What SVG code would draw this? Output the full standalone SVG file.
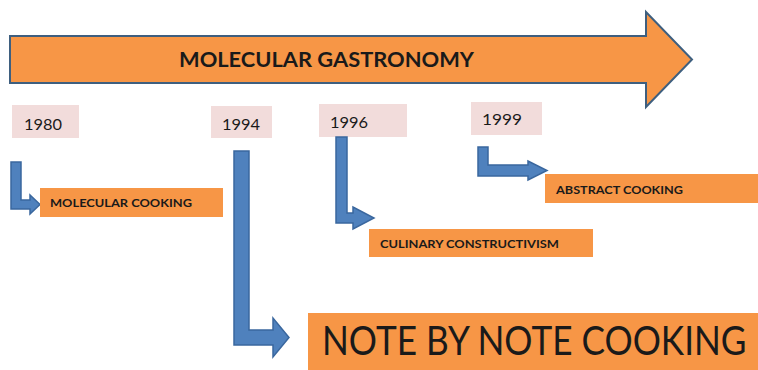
<svg xmlns="http://www.w3.org/2000/svg" width="758" height="370" viewBox="0 0 758 370">
<style>
.bg{fill:#ffffff}
.orange{fill:#F79646}
.year{fill:#F2DCDB}
.bent{fill:#4F81BD;stroke:#3A679E;stroke-width:1.5;stroke-linejoin:miter}
.big{fill:#F79646;stroke:#3E5F7F;stroke-width:2}
.t{font-family:Lato,"Liberation Sans",sans-serif;fill:#1a1a1a}
.b{font-weight:bold}
</style>
<rect class="bg" x="0" y="0" width="758" height="370"/>
<g id="main">
<polygon class="big" points="10,36 646,36 646,12 692,59.5 646,107 646,83 10,83"/>
<text class="t b" x="179" y="67" font-size="21" textLength="295" lengthAdjust="spacingAndGlyphs">MOLECULAR GASTRONOMY</text>
</g>
<g id="y1980">
<rect class="year" x="12" y="105" width="67" height="33"/>
<text class="t" x="24" y="130" font-size="16" textLength="38" lengthAdjust="spacingAndGlyphs">1980</text>
</g>
<g id="y1994">
<rect class="year" x="211" y="106" width="61" height="32"/>
<text class="t" x="222" y="130" font-size="16" textLength="38" lengthAdjust="spacingAndGlyphs">1994</text>
</g>
<g id="y1996">
<rect class="year" x="319" y="104" width="88" height="33"/>
<text class="t" x="330" y="128" font-size="16" textLength="38" lengthAdjust="spacingAndGlyphs">1996</text>
</g>
<g id="y1999">
<rect class="year" x="471" y="102" width="71" height="33"/>
<text class="t" x="482" y="125" font-size="16" textLength="40" lengthAdjust="spacingAndGlyphs">1999</text>
</g>
<g id="connectors">
<polygon class="bent" points="11,162 21,162 21,200 30,200 30,195 40,204.5 30,214 30,209 11,209"/>
<polygon class="bent" points="234,151 249,151 249,330 273,330 273,318 289,337.5 273,357 273,345 234,345"/>
<polygon class="bent" points="336,137 347,137 347,213 353,213 353,207 374,218 353,229 353,223 336,223"/>
<polygon class="bent" points="478,147 488,147 488,165 528,165 528,161 547,170.5 528,180 528,176 478,176"/>
</g>
<g id="molecular-cooking">
<rect class="orange" x="40" y="188" width="183" height="29"/>
<text class="t b" x="50" y="207" font-size="12" textLength="142" lengthAdjust="spacingAndGlyphs">MOLECULAR COOKING</text>
</g>
<g id="abstract-cooking">
<rect class="orange" x="545" y="174" width="213" height="29"/>
<text class="t b" x="556" y="194" font-size="12" textLength="127" lengthAdjust="spacingAndGlyphs">ABSTRACT COOKING</text>
</g>
<g id="culinary-constructivism">
<rect class="orange" x="369" y="229" width="224" height="28"/>
<text class="t b" x="380" y="248" font-size="12" textLength="179" lengthAdjust="spacingAndGlyphs">CULINARY CONSTRUCTIVISM</text>
</g>
<g id="note-by-note">
<rect class="orange" x="308" y="313" width="450" height="57"/>
<text class="t" transform="translate(322,355) scale(0.88,1)" x="0" y="0" font-size="40">NOTE BY NOTE COOKING</text>
</g>
</svg>
